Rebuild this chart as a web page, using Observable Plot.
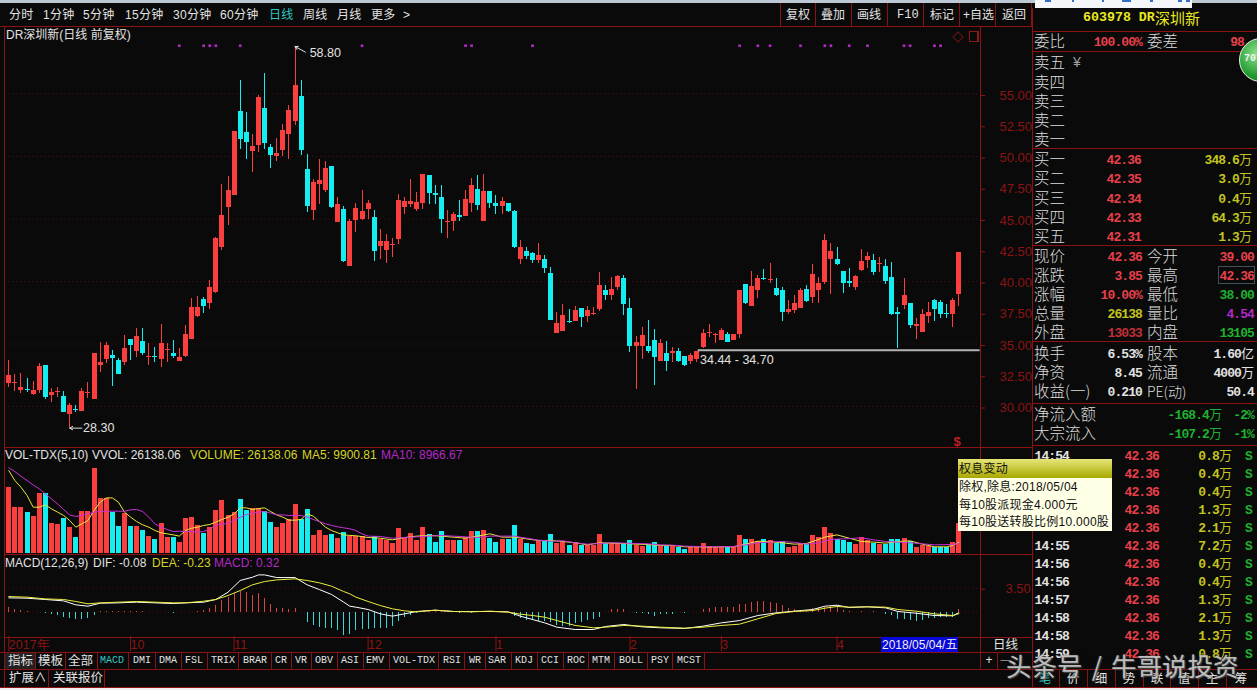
<!DOCTYPE html>
<html><head><meta charset="utf-8">
<script src="https://cdn.jsdelivr.net/npm/d3@7"></script>
<script src="https://cdn.jsdelivr.net/npm/@observablehq/plot@0.6"></script>
<style>
html,body{margin:0;padding:0;background:#0a0a0a;overflow:hidden}
#app{position:relative;width:1257px;height:690px;background:#0a0a0a;overflow:hidden;font-family:"Liberation Sans","Noto Sans CJK SC",sans-serif}
#app svg{position:absolute;left:0}
#app span.t{position:absolute;white-space:pre;line-height:1}
#app div.l{position:absolute}
</style></head><body><div id="app"></div>
<script>
// ---------- daily candles, 157 sessions ----------
const opens=[
31.81,31.84,31.28,31.33,30.96,31.28,33.28,30.85,31.15,30.80,
29.36,29.79,29.60,31.07,30.56,33.28,33.76,34.08,33.68,33.52,
35.33,34.40,35.20,33.94,34.02,33.76,34.50,34.21,33.62,34.00,
35.36,37.20,38.53,38.26,39.14,42.74,45.94,46.87,53.59,51.91,
50.41,50.87,53.83,50.71,49.99,50.47,51.75,52.79,54.78,48.95,
45.67,47.75,47.27,49.19,44.71,45.75,41.19,44.87,44.98,45.80,
45.11,42.79,42.47,42.87,43.35,45.91,46.15,45.75,46.23,48.47,
47.03,46.71,44.74,44.79,45.27,45.19,46.23,47.35,44.79,47.19,
46.23,45.99,46.26,45.59,41.75,42.39,42.23,41.67,41.75,40.63,
35.84,36.00,36.80,36.80,37.83,37.20,37.36,37.76,39.27,38.87,
39.51,40.23,37.83,34.80,34.80,34.80,35.28,33.60,34.24,34.24,
34.40,34.00,33.60,33.76,34.72,35.81,35.65,35.28,35.76,35.28,
35.76,39.75,37.99,39.27,40.23,40.07,39.43,39.27,37.52,37.68,
37.84,39.35,38.71,39.27,39.91,41.75,41.75,40.79,39.99,39.51,
40.87,41.67,41.67,41.35,41.19,40.31,37.52,38.07,38.23,36.40,
35.92,37.20,38.47,38.31,37.44,37.36,39.00];
const closes=[
32.48,31.92,31.52,31.25,31.28,33.20,30.75,31.12,31.23,29.55,
30.08,29.71,31.20,31.15,34.26,33.52,34.88,33.84,32.56,34.61,
34.88,35.60,34.21,34.02,33.94,35.01,34.58,34.00,33.92,35.76,
37.92,37.92,38.02,39.51,43.43,45.27,47.27,51.99,51.35,51.13,
50.79,54.70,51.03,50.07,50.23,52.07,53.67,55.66,50.47,45.99,
47.91,48.07,49.03,45.94,46.15,41.59,44.79,45.83,45.59,46.23,
42.39,43.19,43.19,42.95,46.47,46.39,46.39,46.31,48.55,47.03,
46.90,44.95,44.82,45.35,45.11,46.55,47.67,46.07,47.19,46.23,
45.99,46.39,45.59,42.74,42.71,41.99,41.67,42.07,41.03,36.88,
36.64,37.28,36.72,37.68,37.12,37.68,37.44,39.67,38.87,39.35,
40.39,38.15,34.80,35.12,35.68,34.40,33.92,35.04,33.60,34.40,
33.60,33.28,34.08,34.40,35.84,35.92,35.76,36.08,35.12,35.76,
39.27,38.23,39.59,40.23,40.13,40.15,38.87,37.52,37.76,38.23,
39.27,38.39,40.55,39.83,43.27,42.39,41.35,39.83,39.83,40.39,
41.59,41.99,40.71,41.43,39.99,37.36,37.36,38.87,36.48,36.56,
37.36,37.52,37.76,37.36,37.36,38.47,42.36];
const highs=[
33.68,32.56,32.67,32.21,32.03,33.46,33.28,31.41,31.55,31.20,
30.21,30.08,31.41,31.95,34.26,35.14,35.14,34.48,33.81,35.68,
35.33,36.21,36.21,35.06,34.69,36.56,35.01,35.28,34.61,36.48,
38.61,38.79,38.74,40.07,43.54,47.80,48.39,51.99,56.12,53.53,
51.75,54.86,56.68,50.95,51.45,52.60,54.07,58.80,56.12,50.20,
48.20,49.75,49.59,49.19,46.74,45.99,45.00,46.26,47.27,46.47,
45.72,44.15,43.75,43.48,46.95,46.74,48.15,47.11,48.60,48.47,
47.67,47.67,45.67,45.51,46.47,47.27,48.25,48.47,48.55,47.19,
46.87,46.74,46.26,45.67,43.27,42.74,42.31,43.06,42.07,41.09,
37.52,38.15,37.76,37.99,37.83,37.99,37.89,40.71,39.67,40.31,
40.47,40.47,38.61,35.60,36.32,36.88,36.16,35.33,35.20,34.72,
34.64,34.00,34.21,34.40,36.13,36.56,35.81,36.21,35.94,35.76,
39.27,39.75,40.79,40.47,40.95,41.46,40.21,39.54,38.47,38.87,
39.43,39.67,41.35,40.31,43.75,43.03,42.71,40.79,41.03,40.47,
42.53,42.31,42.15,41.94,41.75,41.51,37.92,40.23,38.23,37.04,
37.76,38.31,38.55,38.47,38.15,38.63,42.36];
const lows=[
31.55,31.23,31.01,31.15,30.88,31.07,30.59,30.35,30.75,29.55,
28.30,29.55,29.60,30.61,30.56,32.74,33.46,31.60,32.53,33.28,
33.68,33.94,34.08,33.28,33.54,33.14,33.54,33.81,33.62,33.94,
35.36,37.09,37.41,37.73,39.01,42.47,44.47,46.87,50.60,49.75,
48.73,50.33,50.60,49.03,49.61,49.99,49.80,52.47,50.07,45.54,
44.87,46.20,47.14,45.86,44.71,41.54,41.19,43.94,44.92,45.00,
41.62,41.75,41.46,41.94,42.95,45.35,45.94,45.62,45.80,46.20,
46.15,43.86,43.46,43.99,44.79,45.19,45.51,45.67,44.79,45.83,
45.35,45.35,45.51,42.63,41.35,41.75,41.46,41.46,40.66,36.88,
35.81,36.00,36.64,36.80,36.32,36.72,37.28,37.60,38.47,38.47,
39.27,37.28,34.32,31.33,33.76,34.24,31.68,33.60,32.82,33.52,
33.52,33.20,33.36,33.52,34.64,35.52,35.04,35.28,35.12,35.28,
35.41,38.15,37.99,38.61,40.07,39.81,38.79,36.80,37.36,37.41,
37.84,38.31,38.23,38.23,39.75,38.95,41.27,39.03,39.51,39.27,
40.82,41.03,40.47,40.71,39.75,37.28,34.64,37.76,36.24,35.36,
35.92,36.64,36.80,37.04,37.04,36.32,38.00];
// volume, thousands of lots
const volumes=[
57.7,40.3,40.3,36.0,32.5,52.5,52.5,26.4,25.5,30.7,
22.9,14.2,36.8,36.8,74.5,48.1,48.1,36.0,23.8,35.1,
23.8,23.8,20.3,15.1,12.5,26.4,14.2,14.2,9.9,30.7,
31.6,24.7,17.7,22.9,37.7,46.4,33.4,36.0,47.3,37.7,
39.2,39.2,36.8,27.3,22.9,26.4,29.9,42.9,29.9,38.6,
16.0,20.3,16.0,16.8,13.3,18.6,15.1,15.1,15.1,11.6,
15.1,12.5,11.6,9.0,22.0,14.2,17.7,11.6,22.9,16.8,
9.9,19.4,11.6,11.6,11.6,14.2,19.4,19.4,20.3,13.3,
9.9,12.5,12.5,24.7,12.5,9.0,8.1,10.7,10.7,16.8,
9.0,10.2,7.3,10.2,7.3,7.3,7.3,16.8,9.0,9.0,
9.0,8.1,11.6,7.3,6.4,7.3,9.6,6.4,6.4,6.4,
5.5,3.8,5.5,5.5,9.0,6.4,5.5,6.4,5.5,5.5,
16.0,12.5,12.5,10.7,12.5,11.6,9.0,10.7,5.5,6.4,
9.0,8.1,16.0,14.2,22.9,17.7,12.5,11.6,10.2,8.1,
14.2,11.6,9.0,8.1,8.1,12.5,12.5,13.3,10.7,5.5,
7.3,6.4,5.5,5.5,5.5,9.9,26.14];
const ma5Days=d3.range(1,58).concat([58,60,62,64,66,68,70,72,74,76,78,80,82,84,86,88,90,92,94,96,98,100,102,104,106,108,110,112,114,116,118,120,122,124,126,128,130,132,134,135,137,139,141,143,145,147,149,151,153,155,156,157]);
const ma5Values=[72.5,63.8,58,50.8,40.6,40.6,42.6,39.2,36.3,33.4,29,23.2,26.1,29,37.7,45,48.7,48.7,45,36.3,31.9,28.1,25.2,23.2,20.3,18.3,17.4,16.5,15.4,20.3,22.3,23.2,24.7,25.5,27.6,29.9,31.9,34.8,40,40,38.6,39.4,40,36.8,33.9,31.9,29.3,29.3,29.9,34.8,32.8,28.1,23.2,20.3,18.3,16.5,16,
15.7,14.2,13.6,12.2,14.2,15.4,16,15.4,14.5,13.6,15.4,17.4,14.5,14.5,13,11.6,11.6,10.7,9.6,7.8,9.6,9.3,9,8.4,8.1,7.3,7.3,6.1,6.1,5.8,6.1,6.1,8.4,11,10.4,9.6,8.4,9,12.5,14.5,16.5,13.6,10.7,10.2,9.3,10.7,11.3,8.4,6.1,6.1,7.3,9.9];
const ma10Days=d3.range(1,58).concat([58,59,60,62,64,66,68,70,72,74,76,78,80,82,84,86,88,90,92,94,96,98,100,102,104,106,108,110,112,114,116,118,120,122,124,126,128,130,132,134,136,138,141,143,145,147,149,151,153,156,157]);
const ma10Values=[74.8,71.6,67.6,63.8,60,56.6,52.2,47.9,43.5,38.6,33.9,32.5,33.4,34.8,36.3,36.8,37.1,37.1,37.1,37.1,38.3,38.6,36.8,31.9,26.1,23.2,21.2,19.4,19.7,19.4,19.4,18.9,19.4,21.8,24.7,26.1,26.1,29,31.9,34.2,35.4,36.3,36.8,35.4,33.9,33.9,33.4,33.4,33.4,31.9,29.9,28.1,26.1,24.7,23.5,22.6,21.8,
20.3,17.4,15.4,15.1,13.6,14.2,14.8,15.4,16,15.4,14.8,14.2,15.4,15.4,15.4,13.6,11.9,11,11.3,9.6,8.4,9,9.6,9.3,9,8.7,7.8,7.5,6.7,6.4,6.1,6.1,6.4,7.8,9.6,10.2,10.7,9.9,8.4,9.6,12.5,13,13.9,12.2,10.7,10.2,9.6,8.7,7.8,8.1,8.97];
// MACD pane
const histogram=[
.68,.39,.29,.05,.02,.02,-.24,-.34,-.49,-.73,
-.97,-1.07,-1.07,-.97,-.49,.1,.05,.05,.05,.05,
.05,.1,.05,-.05,-.1,-.1,-.1,-.15,-.1,-.1,
0,.1,.19,.49,.97,1.7,2.19,2.67,3.01,2.82,
2.43,2.67,2.04,1.12,.58,.49,.39,.49,0,-1.46,
-1.94,-2.19,-2.33,-2.43,-2.67,-3.4,-3.3,-2.67,-2.53,-2.53,
-2.33,-2.33,-2.33,-2.09,-1.36,-.78,-.49,-.24,-.1,.05,
.1,.05,.05,.05,-.15,-.1,-.2,-.1,-.05,.05,
.05,.05,-.1,-.58,-.87,-1.22,-1.26,-1.31,-1.31,-1.56,
-1.94,-2.09,-2.04,-1.7,-1.56,-1.22,-1.07,-.73,-.1,.34,
.39,.44,0,-.15,-.19,-.39,-.58,-.39,-.39,-.29,
-.1,-.15,-.1,-.05,.39,.58,.63,.63,.63,.68,
1.12,1.17,1.36,1.56,1.56,1.46,1.22,.97,.49,.39,
.29,.24,.49,.58,.63,.83,.78,.24,.05,0,
.05,-.05,.05,0,-.29,-.49,-1.07,-1.07,-1.22,-1.31,
-1.26,-.97,-.87,-.78,-.73,-.73,.32];
const difDays=[1,4,7,10,12,14,16,19,22,25,28,30,33,35,37,39,41,42,43,45,48,50,52,54,56,57,58,60,62,64,66,68,71,74,77,80,83,85,87,89,91,94,97,99,102,105,108,112,115,118,121,124,127,130,133,135,137,139,142,145,147,150,153,156,157];
const difValues=[2.09,2.04,1.85,1.65,1.07,.87,1.31,1.36,1.46,1.36,1.26,1.36,1.46,1.85,2.92,4.62,5.1,5.44,5.44,5.05,5.05,3.99,3.3,2.58,1.46,.87,.73,.39,-.24,-.58,-.24,.1,.29,.1,.1,.1,.05,-.58,-1.07,-1.56,-2.19,-2.53,-2.53,-2.09,-1.8,-2.14,-2.28,-2.38,-2.04,-1.56,-1.22,-.49,-.1,.15,.39,.87,1.02,.68,.78,.63,.1,-.15,-.49,-.53,-.08];
const deaDays=[1,4,7,10,12,14,16,19,22,25,28,30,33,35,37,39,41,43,45,48,50,52,54,56,57,58,60,62,64,66,68,71,74,77,80,83,85,87,89,91,94,97,99,102,105,108,112,115,118,121,124,127,130,133,135,137,139,142,145,147,150,153,156,157];
const deaValues=[2.28,2.19,1.94,1.85,1.56,1.22,1.36,1.46,1.56,1.46,1.36,1.36,1.6,1.85,2.43,3.16,3.99,4.47,4.71,4.86,4.62,4.28,3.79,3.01,2.67,2.19,1.56,.97,.49,.19,.05,.29,.1,.05,.15,0,-.29,-.49,-.73,-1.22,-1.94,-2.28,-2.19,-1.94,-2.04,-2.19,-2.33,-2.19,-1.94,-1.75,-.97,-.19,.1,.24,.58,.83,.73,.78,.73,.39,.15,-.24,-.49,-.23];
// annotations
const signalDays=[29,33,34,35,39,59,76,77,87,121,124,126,131,135,136,139,142,148,149,153,154];
const priceTicks=[30,32.5,35,37.5,40,42.5,45,47.5,50,52.5,55];
const priceGrid=[30,35,40,45,50,55];
const monthDays=[1,21,38,60,81,103,118,137];
const monthNames=["2017年","10","11","12","1","2","3","4"];

const RED="#fb3e3e",CYAN="#14eef0",AXIS="#8a1414",GRID="#4c0e0e",LINE="#8a1212",WHITE="#e2e2e2",YEL="#d4d428",MAG="#b428c8";
const idx=d3.range(1,158);
const isUp=i=>closes[i-1]>=opens[i-1];
const xDomain=[0.294,160.56],common={width:1257,marginLeft:4,marginRight:277,style:{background:"transparent",color:AXIS,overflow:"visible"}};
const fmt=d3.format(".2f");
const FONT="Liberation Sans";

const price=Plot.plot({...common,height:420,marginTop:4,marginBottom:16,
 x:{domain:xDomain,axis:null},y:{domain:[28,60]},
 marks:[
  Plot.ruleY(priceGrid,{stroke:GRID,strokeDasharray:"1 3"}),
  Plot.axisY(priceTicks,{anchor:"right",tickSize:4,tickPadding:15,tickFormat:fmt,fontSize:13,fontFamily:FONT,stroke:AXIS,fill:AXIS,label:null,textStroke:"none",dy:1.5}),
  Plot.ruleX(idx,{x:d=>d,y1:i=>lows[i-1],y2:i=>highs[i-1],stroke:i=>isUp(i)?RED:CYAN,strokeWidth:1,shapeRendering:"crispEdges"}),
  Plot.ruleX(idx,{x:d=>d,y1:i=>opens[i-1],y2:i=>closes[i-1],stroke:i=>isUp(i)?RED:CYAN,strokeWidth:5,shapeRendering:"crispEdges"}),
  Plot.dot(signalDays,{x:d=>d,y:()=>58.86,symbol:"square",r:1.5,fill:MAG,stroke:null}),
  Plot.ruleY([34.5],{x1:114.2,x2:160.5,stroke:"#b4b4b4",strokeWidth:2}),
  Plot.text(["34.44 - 34.70"],{x:()=>114.5,y:()=>33.7,text:d=>d,fill:WHITE,fontSize:12.5,fontFamily:FONT,textAnchor:"start"}),
  Plot.arrow([0],{x1:()=>49.7,y1:()=>58.35,x2:()=>48,y2:()=>58.8,stroke:WHITE,strokeWidth:1,headLength:5,bend:0}),
  Plot.text(["58.80"],{x:()=>50.4,y:()=>58.3,text:d=>d,fill:WHITE,fontSize:12.5,fontFamily:FONT,textAnchor:"start"}),
  Plot.arrow([0],{x1:()=>13,y1:()=>28.27,x2:()=>11,y2:()=>28.27,stroke:WHITE,strokeWidth:1,headLength:5,bend:0}),
  Plot.text(["28.30"],{x:()=>13.2,y:()=>28.25,text:d=>d,fill:WHITE,fontSize:12.5,fontFamily:FONT,textAnchor:"start"})
 ]});
price.style.top="27px";

const volume=Plot.plot({...common,height:107,marginTop:3,marginBottom:0.7,
 x:{domain:xDomain,axis:null},y:{domain:[0,90],axis:null},
 marks:[
  Plot.ruleY([25,50,75],{stroke:"#2c0a0a",strokeDasharray:"1 3"}),
  Plot.ruleX(idx,{x:d=>d,y1:0,y2:i=>volumes[i-1],stroke:i=>isUp(i)?RED:CYAN,strokeWidth:5,shapeRendering:"crispEdges"}),
  Plot.line(ma5Days,{x:d=>d,y:(d,i)=>ma5Values[i],stroke:"#e8e83c",strokeWidth:1}),
  Plot.line(ma10Days,{x:d=>d,y:(d,i)=>ma10Values[i],stroke:"#c832d8",strokeWidth:1})
 ]});
volume.style.top="447px";

const macd=Plot.plot({...common,height:97,marginTop:0,marginBottom:16,
 x:{domain:xDomain,label:null},y:{domain:[-3.55,8.27]},
 marks:[
  Plot.axisY([3.5],{anchor:"right",tickSize:4,tickPadding:21,tickFormat:fmt,fontSize:13,fontFamily:FONT,stroke:AXIS,fill:AXIS,label:null,textStroke:"none",dy:1}),
  Plot.axisX(monthDays,{anchor:"bottom",tickSize:15,tickPadding:-11,tickFormat:d=>monthNames[monthDays.indexOf(d)],textAnchor:"start",fontSize:12.5,fontFamily:FONT,fill:AXIS,stroke:AXIS,label:null,textStroke:"none"}),
  Plot.ruleY([0,3.5],{stroke:GRID,strokeDasharray:"1 3"}),
  Plot.ruleX(idx,{x:d=>d,y1:0,y2:i=>histogram[i-1],stroke:i=>histogram[i-1]>=0?"#d84444":"#38d8d8",strokeWidth:1,shapeRendering:"crispEdges"}),
  Plot.line(difDays,{x:d=>d,y:(d,i)=>difValues[i],stroke:"#ffffff",strokeWidth:1}),
  Plot.line(deaDays,{x:d=>d,y:(d,i)=>deaValues[i],stroke:"#eeee40",strokeWidth:1})
 ]});
macd.style.top="555px";

// ---------- chrome ----------
const app=document.getElementById("app");
app.append(price,volume,macd);
function put(text,x,y,o={}){const s=document.createElement("span");s.className="t";s.textContent=text;
 const a=o.anchor==="end"?"-100%":o.anchor==="middle"?"-50%":"0";
 s.style.cssText=`left:${x}px;top:${y}px;transform:translate(${a},-50%);color:${o.color||WHITE};font-size:${o.size||12}px;font-weight:${o.weight||"normal"};font-family:${o.family||'"Liberation Sans","Noto Sans CJK SC"'};${o.css||""}`;
 app.append(s);return s}
function box(x,y,w,h,bg,css=""){const d=document.createElement("div");d.className="l";d.style.cssText=`left:${x}px;top:${y}px;width:${w}px;height:${h}px;background:${bg};${css}`;app.append(d);return d}
const hl=(x1,x2,y,c=LINE)=>box(x1,y,x2-x1,1,c);
const vl=(x,y1,y2,c=LINE)=>box(x,y1,1,y2-y1,c);
const MONO='"Liberation Mono","Noto Sans CJK SC"',CJK='"Noto Sans CJK SC"';

box(0,0,1257,3,"#bcc8d4");
box(1035,0,157,8,"#f4f6fa");
[[1045,6],[1072,2],[1102,2],[1122,9],[1150,3],[1178,4],[1186,4]].forEach(([x,w])=>box(x,0,w,2,"#3070c8"));

// frame lines
hl(0,1032,26);hl(4,1032,447);hl(4,1032,554);hl(4,1032,637);hl(0,1032,652);hl(0,1257,669);hl(0,1257,687);
vl(4,27,687);vl(980,27,652);vl(1032,8,690);
box(0,688,1257,2,"#f0f0f0");

// top toolbar
const periods=["分时","1分钟","5分钟","15分钟","30分钟","60分钟","日线","周线","月线","更多",">"];
const periodX=[9,43,83,125,173,220,269,303,337,371,403];
periods.forEach((t,i)=>put(t,periodX[i],15,{size:12,color:t==="日线"?"#30c8c0":WHITE,css:"letter-spacing:.3px"}));
const tools=["复权","叠加","画线","F10","标记","+自选","返回"];
const toolX=[786,821,857,897,930,963,1002];
tools.forEach((t,i)=>put(t,toolX[i],15,{size:12,family:t==="F10"?MONO:undefined}));
[780,815,851,887,923,959,995,1031].forEach(x=>vl(x,3,26));

// pane captions
put("DR深圳新(日线 前复权)",6,35,{size:12});
[["VOL-TDX(5,10)",5,WHITE],["VVOL: 26138.06",92,WHITE],["VOLUME: 26138.06",190,YEL],["MA5: 9900.81",302,YEL],["MA10: 8966.67",381,MAG]].forEach(([t,x,c])=>put(t,x,455,{color:c,size:12}));
[["MACD(12,26,9)",5,WHITE],["DIF: -0.08",93,WHITE],["DEA: -0.23",152,YEL],["MACD: 0.32",214,MAG]].forEach(([t,x,c])=>put(t,x,563,{color:c,size:12}));

box(954,33,6,6,"transparent",`border:1px solid #6a1414;transform:rotate(45deg)`);
box(969,31,8,9,"transparent",`border:1px solid #8a1a1a;box-shadow:inset -4px 0 0 -3px #8a1a1a`);
put("$",957,441,{color:"#c02020",size:13,weight:"bold",anchor:"middle"});

// date row
box(881,637,77,15,"#0808d8");
put("2018/05/04/五",882,645,{size:12,color:"#f0f0f0"});
put("日线",993,645,{size:12.5});

// indicator tabs
const tabs=["指标","模板","全部","MACD","DMI","DMA","FSL","TRIX","BRAR","CR","VR","OBV","ASI","EMV","VOL-TDX","RSI","WR","SAR","KDJ","CCI","ROC","MTM","BOLL","PSY","MCST"];
const tabX=[8,38,68,100,133,159,185,211,243,275,295,315,341,366,393,443,469,488,515,541,567,592,619,651,677];
const tabEnd=[35,65,97,128,155,181,207,238,271,291,311,337,363,389,438,464,485,511,537,563,588,614,647,672,704];
box(5,653,30,16,"#222222");
tabs.forEach((t,i)=>{const cjk=i<3;put(t,tabX[i],661,{size:cjk?12.5:10,family:cjk?undefined:MONO,color:t==="MACD"?"#30c8c0":WHITE});vl(tabEnd[i],652,669)});
put("+",989,660,{size:12,anchor:"middle"});put("—",1005,660,{size:9,anchor:"middle"});
vl(980,652,669);vl(997,652,669);
put("扩展∧",9,678,{size:12.5});put("关联报价",53,678,{size:12.5});
vl(48,669,687);vl(104,669,687);

// right panel: quote
put("603978 DR",1083,18,{family:MONO,weight:"bold",size:13.3,color:"#e8e820"});
put("深圳新",1155,18,{size:15,color:"#e8e820"});
[31,51,148,245,341,403,445].forEach(y=>hl(1032,1257,y));
const Q={size:15.5,family:CJK,color:"#dcdcdc",weight:300};
const num=(t,x,y,c)=>put(t,x,y+1,{family:MONO,weight:"bold",size:13,color:c,anchor:"end",css:"letter-spacing:-.9px"});
const unit=(t,x,y,c)=>put(t,x,y-1,{anchor:"end",size:13,color:c,family:CJK});
const PR="#e8404a",GR="#20b030",YV="#c4c420";
put("委比",1034,41,Q);num("100.00%",1142,41,PR);put("委差",1147,41,Q);num("98",1244,41,PR);
const sellNames=["卖五","卖四","卖三","卖二","卖一"],sellY=[62,81.5,100.5,119.5,139];
sellNames.forEach((t,i)=>put(t,1034,sellY[i],Q));
put("¥",1073,62,{size:14,color:"#a0a0a0"});
const buyNames=["买一","买二","买三","买四","买五"],buyPrices=["42.36","42.35","42.34","42.33","42.31"],buyVols=["348.6","3.0","0.4","64.3","1.3"],buyY=[159,178,197.5,216.5,235.5];
buyNames.forEach((t,i)=>{put(t,1034,buyY[i],Q);num(buyPrices[i],1141,buyY[i],PR);num(buyVols[i],1239,buyY[i],YV);unit("万",1252,buyY[i],YV)});
const infoLeft=["现价","涨跌","涨幅","总量","外盘"],infoLeftVal=["42.36","3.85","10.00%","26138","13033"],infoLeftCol=[PR,PR,PR,YV,"#c03038"];
const infoRight=["今开","最高","最低","量比","内盘"],infoRightVal=["39.00","42.36","38.00","4.54","13105"],infoRightCol=[PR,PR,GR,MAG,GR],infoY=[256,275,294,313,332];
infoLeft.forEach((t,i)=>{const y=infoY[i];put(t,1034,y,Q);num(infoLeftVal[i],1142,y,infoLeftCol[i]);put(infoRight[i],1147,y,Q);num(infoRightVal[i],1254,y,infoRightCol[i])});
box(1218,266,37,18,"transparent","border:1px solid #445058;box-sizing:border-box");
const statLeft=["换手","净资","收益(一)"],statLeftVal=["6.53%","8.45","0.210"],statRight=["股本","流通","PE(动)"],statRightVal=["1.60","4000","50.4"],statUnit=["亿","万",""],statY=[353,372,391];
statLeft.forEach((t,i)=>{const y=statY[i];put(t,1034,y,Q);num(statLeftVal[i],1142,y,WHITE);put(statRight[i],1147,y,i==2?{...Q,size:14}:Q);
 if(statUnit[i]){unit(statUnit[i],1254,y,WHITE);num(statRightVal[i],1241,y,WHITE)}else num(statRightVal[i],1254,y,WHITE)});
[["净流入额","-168.4","-2%",414],["大宗流入","-107.2","-1%",433]].forEach(([t,a,b,y])=>{put(t,1034,y,Q);num(a,1209,y,GR);unit("万",1222,y,GR);num(b,1254,y,GR)});

// bubble
box(1239,38,44,44,"radial-gradient(circle at 40% 35%,#8ee08e,#1f9a2e 60%,#0d6e1a)","border-radius:50%;border:1px solid #e8f0e8;box-sizing:border-box");
put("70",1244,59,{size:10,weight:"bold",color:"#f4f4f4",family:MONO});

// right panel: ticks (rows 2-5 have their time column under the tooltip)
const tickTimes=["14:54","","","","","14:55","14:56","14:56","14:57","14:58","14:58","14:59"];
const tickVols=["0.8","0.4","0.4","1.3","2.1","7.2","0.4","0.4","1.3","2.1","1.3","0.8"];
tickTimes.forEach((t,i)=>{const y=455+i*18;if(t)num(t,1069,y,WHITE);num("42.36",1159,y,PR);num(tickVols[i],1219,y,YV);unit("万",1232,y,YV);put("S",1245,y+1,{family:MONO,weight:"bold",size:13,color:GR})});

// bottom right tabs
const sideTabs=["笔","价","细","势","联","值","主","筹"];
const sideX=[1045,1073,1101,1129,1157,1184,1212,1241];
sideTabs.forEach((t,i)=>put(t,sideX[i],679,{size:12.5,anchor:"middle",color:i==0?"#30c8c0":WHITE}));
[1059,1087,1115,1143,1170,1198,1226].forEach(x=>vl(x,669,687));

// tooltip
box(958,459,154,72,"#ffffe6");
box(958,459,154,19,"linear-gradient(#e6e678,#a8a800)");
const tipLines=["权息变动","除权,除息:2018/05/04","每10股派现金4.000元","每10股送转股比例10.000股"],tipY=[468.5,487,505,522];
tipLines.forEach((t,i)=>put(t,959,tipY[i],{size:12,color:"#101010",css:"letter-spacing:.25px"}));

// watermark
put("头条号 / 牛哥说投资",1006,665,{size:25.5,family:CJK,color:"rgba(228,228,228,.8)",css:"word-spacing:3.5px;text-shadow:0 0 2px #333,1px 1px 1px #555"});
</script></body></html>
